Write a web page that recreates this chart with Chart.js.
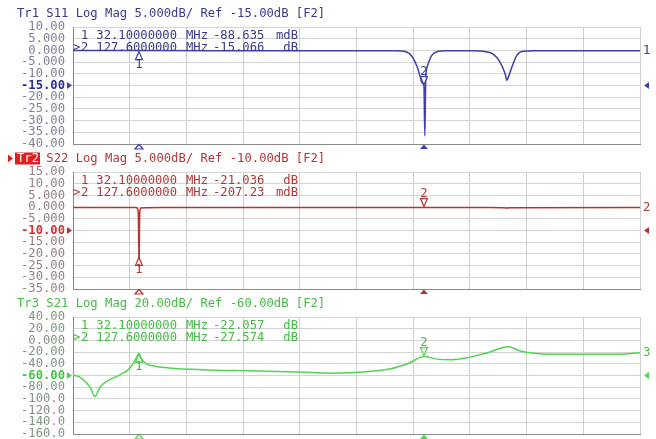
<!DOCTYPE html>
<html>
<head>
<meta charset="utf-8">
<script src="https://cdn.jsdelivr.net/npm/chart.js@4.4.1/dist/chart.umd.min.js"></script>
<style>
  html, body { margin: 0; padding: 0; background: #fff; }
  #wrap { position: relative; width: 656px; height: 439px; overflow: hidden; }
  canvas { position: absolute; left: 0; }
</style>
</head>
<body>
<div id="wrap">
  <canvas id="s11Chart" width="656" height="151" style="top:0px"></canvas>
  <canvas id="s22Chart" width="656" height="151" style="top:146px"></canvas>
  <canvas id="s21Chart" width="656" height="147" style="top:292px"></canvas>
</div>
<script>
// frequency axis (MHz)
const freqStart = 10;
const freqStop = 200;
const gridFreqs = [10, 29, 48, 67, 86, 105, 124, 143, 162, 181, 200];

// markers
const markerFreqs = [32.1, 127.6];
const s11MarkerVals = [-0.088635, -15.066];
const s22MarkerVals = [-21.036, -0.20723];
const s21MarkerVals = [-22.057, -27.574];

// tick labels
const s11TickLabels = ["10.00", "5.000", "0.000", "-5.000", "-10.00", "-15.00", "-20.00", "-25.00", "-30.00", "-35.00", "-40.00"];
const s22TickLabels = ["15.00", "10.00", "5.000", "0.000", "-5.000", "-10.00", "-15.00", "-20.00", "-25.00", "-30.00", "-35.00"];
const s21TickLabels = ["40.00", "20.00", "0.000", "-20.00", "-40.00", "-60.00", "-80.00", "-100.0", "-120.0", "-140.0", "-160.0"];

// titles
const traceTitles = [
  "Tr1 S11 Log Mag 5.000dB/ Ref -15.00dB [F2]",
  "Tr2 S22 Log Mag 5.000dB/ Ref -10.00dB [F2]",
  "Tr3 S21 Log Mag 20.00dB/ Ref -60.00dB [F2]",
];

// S11 trace
const s11Freq = [10, 30, 32.1, 60, 100, 118, 121.3, 123.6, 125.3, 126.3, 127.0, 127.6, 127.9, 128.2, 128.7, 130.3, 132.3, 135, 145, 147.4, 150.7, 153.1, 154.8, 155.4, 156.0, 157.1, 158.8, 160.8, 165, 200];
const s11Db = [-0.05, -0.08, -0.09, -0.1, -0.1, -0.2, -0.5, -2.6, -7, -11, -14, -15.07, -36.5, -12, -7, -2, -0.4, -0.15, -0.1, -0.4, -1.5, -5, -10, -12.8, -11, -7, -2, -0.4, -0.15, -0.1];

// S22 trace
const s22Freq = [10, 31.2, 31.6, 31.9, 32.0, 32.1, 32.15, 32.25, 32.4, 32.8, 40, 127.6, 150, 154.5, 155.5, 157, 200];
const s22Db = [-0.15, -0.2, -0.6, -3, -12, -21.04, -25.5, -12, -2, -0.4, -0.2, -0.21, -0.2, -0.3, -0.4, -0.25, -0.2];

// S21 trace
const s21Freq = [10, 12, 13.4, 15.7, 17.4, 19.0, 22.4, 25.7, 29.1, 31.2, 32.1, 33.0, 34.6, 37.4, 42.1, 52.6, 69.3, 86.1, 96, 104.5, 116, 122.5, 127.6, 132, 137, 142.7, 148.4, 155.8, 159.8, 164.5, 170, 193, 200];
const s21Db = [-59, -62, -67, -80, -96, -80, -67, -59, -47, -30, -22.06, -32, -40, -44, -47, -50, -52, -54, -56, -55, -49, -39, -27.57, -32, -33, -29, -22, -11, -18, -22, -23.5, -23.5, -21];

const FONT = "12.2px 'DejaVu Sans Mono'";

// overlay: title, marker readout, marker symbols, reference arrows
function vnaOverlay(p) {
  return {
    id: "vnaOverlay",
    afterDraw(chart) {
      const ctx = chart.ctx;
      const xs = chart.scales.x;
      const ys = chart.scales.y;
      const area = chart.chartArea;
      ctx.save();
      ctx.font = FONT;
      ctx.textBaseline = "middle";

      // title
      ctx.fillStyle = p.titleColor;
      if (p.active) {
        const w = ctx.measureText("Tr2").width;
        ctx.fillStyle = "#e02020";
        ctx.beginPath();
        ctx.moveTo(8, p.titleY - 4);
        ctx.lineTo(13, p.titleY);
        ctx.lineTo(8, p.titleY + 4);
        ctx.fill();
        ctx.fillRect(15, p.titleY - 6, w + 3, 12);
        ctx.fillStyle = "#fff";
        ctx.fillText("Tr2", 17, p.titleY + 0.5);
        ctx.fillStyle = p.titleColor;
        ctx.fillText(p.title.slice(3), 17 + w, p.titleY + 0.5);
      } else {
        ctx.fillText(p.title, 17, p.titleY + 0.5);
      }

      // marker readout
      markerFreqs.forEach((f, i) => {
        const y = ys.getPixelForValue(p.ticks[i + 1]) - 3;
        const v = p.markerVals[i];
        const small = Math.abs(v) < 1;
        ctx.fillStyle = p.titleColor;
        ctx.textAlign = "left";
        if (i === 1) ctx.fillText(">", 73, y);
        ctx.fillText(String(i + 1), 81, y);
        ctx.textAlign = "right";
        ctx.fillText(f.toPrecision(10), 177, y);
        ctx.textAlign = "left";
        ctx.fillText("MHz", 186, y);
        ctx.fillText((small ? v * 1000 : v).toPrecision(5), 213, y);
        ctx.textAlign = "right";
        ctx.fillText(small ? "mdB" : "dB", 298, y);
      });

      // marker symbols
      ctx.lineWidth = 1.2;
      ctx.strokeStyle = p.color;
      ctx.textAlign = "center";
      markerFreqs.forEach((f, i) => {
        const px = xs.getPixelForValue(f);
        const py = ys.getPixelForValue(p.markerVals[i]);
        ctx.beginPath();
        if (i === 0) {
          ctx.moveTo(px, py + 1);
          ctx.lineTo(px - 3.5, py + 9);
          ctx.lineTo(px + 3.5, py + 9);
        } else {
          ctx.moveTo(px, py - 1);
          ctx.lineTo(px - 3.5, py - 9);
          ctx.lineTo(px + 3.5, py - 9);
        }
        ctx.closePath();
        ctx.fillStyle = "rgba(255,255,255,0.8)";
        ctx.fill();
        ctx.stroke();
        ctx.fillStyle = p.titleColor;
        ctx.fillText(String(i + 1), px, i === 0 ? py + 14 : py - 14);

        // bottom indicator
        const by = area.bottom;
        ctx.beginPath();
        ctx.moveTo(px, by + 0.5);
        ctx.lineTo(px - 4, by + 5);
        ctx.lineTo(px + 4, by + 5);
        ctx.closePath();
        if (i === 1) {
          ctx.fillStyle = p.color;
          ctx.fill();
        } else {
          ctx.stroke();
        }
      });

      // reference arrows
      const ry = ys.getPixelForValue(p.refLevel);
      ctx.fillStyle = p.color;
      ctx.beginPath();
      ctx.moveTo(67, ry - 3.5);
      ctx.lineTo(72, ry);
      ctx.lineTo(67, ry + 3.5);
      ctx.fill();
      ctx.beginPath();
      ctx.moveTo(area.right + 9, ry - 3.5);
      ctx.lineTo(area.right + 4, ry);
      ctx.lineTo(area.right + 9, ry + 3.5);
      ctx.fill();

      // trace number at right end
      ctx.fillStyle = p.titleColor;
      ctx.textAlign = "left";
      ctx.fillText(String(p.traceNo), area.right + 3, ys.getPixelForValue(p.db[p.db.length - 1]));
      ctx.restore();
    },
  };
}

function makeChart(id, p) {
  const ctx = document.getElementById(id).getContext("2d");
  return new Chart(ctx, {
    type: "scatter",
    data: {
      datasets: [
        {
          data: p.freq.map((f, i) => ({ x: f, y: p.db[i] })),
          showLine: true,
          borderColor: p.color,
          borderWidth: 1.5,
          pointRadius: 0,
          cubicInterpolationMode: "monotone",
        },
      ],
    },
    options: {
      responsive: false,
      animation: false,
      devicePixelRatio: 1,
      layout: { padding: { top: p.padTop, right: 16, bottom: p.padBottom, left: 0 } },
      plugins: { legend: { display: false }, tooltip: { enabled: false } },
      scales: {
        x: {
          type: "linear",
          min: freqStart,
          max: freqStop,
          afterBuildTicks: (s) => {
            s.ticks = gridFreqs.map((v) => ({ value: v }));
          },
          afterFit: (s) => {
            s.height = 0;
          },
          ticks: { display: false },
          grid: { color: "#cfcfcf", drawTicks: false },
          border: { color: "#8a8a8a" },
        },
        y: {
          min: p.ticks[p.ticks.length - 1],
          max: p.ticks[0],
          afterBuildTicks: (s) => {
            s.ticks = p.ticks.map((v) => ({ value: v }));
          },
          afterFit: (s) => {
            s.width = 73;
            // label overflow is handled by the layout padding
            s.paddingTop = 0;
            s.paddingBottom = 0;
          },
          ticks: {
            padding: 8,
            autoSkip: false,
            font: (c) => ({
              family: "DejaVu Sans Mono",
              size: 12.2,
              weight: c.tick && c.tick.value === p.refLevel ? "bold" : "normal",
            }),
            color: (c) => (c.tick && c.tick.value === p.refLevel ? p.refColor : p.tickColor),
            callback: (v, i) => p.labels[i],
          },
          grid: { color: "#d4d4d4", drawTicks: false },
          border: { color: "#8a8a8a" },
        },
      },
    },
    plugins: [vnaOverlay(p)],
  });
}

makeChart("s11Chart", {
  freq: s11Freq, db: s11Db, labels: s11TickLabels, ticks: s11TickLabels.map(parseFloat),
  markerVals: s11MarkerVals, title: traceTitles[0], traceNo: 1, refLevel: -15,
  color: "#3f3fae", titleColor: "#3a3a8c", tickColor: "#80809c", refColor: "#2a2a9a",
  padTop: 27, padBottom: 7, titleY: 13, active: false,
});

makeChart("s22Chart", {
  freq: s22Freq, db: s22Db, labels: s22TickLabels, ticks: s22TickLabels.map(parseFloat),
  markerVals: s22MarkerVals, title: traceTitles[1], traceNo: 2, refLevel: -10,
  color: "#b43434", titleColor: "#b03838", tickColor: "#957f7f", refColor: "#d83030",
  padTop: 26, padBottom: 8, titleY: 12.5, active: true,
});

makeChart("s21Chart", {
  freq: s21Freq, db: s21Db, labels: s21TickLabels, ticks: s21TickLabels.map(parseFloat),
  markerVals: s21MarkerVals, title: traceTitles[2], traceNo: 3, refLevel: -60,
  color: "#52d452", titleColor: "#44bb44", tickColor: "#7f957f", refColor: "#40c840",
  padTop: 25, padBottom: 5, titleY: 11, active: false,
});
</script>
</body>
</html>
